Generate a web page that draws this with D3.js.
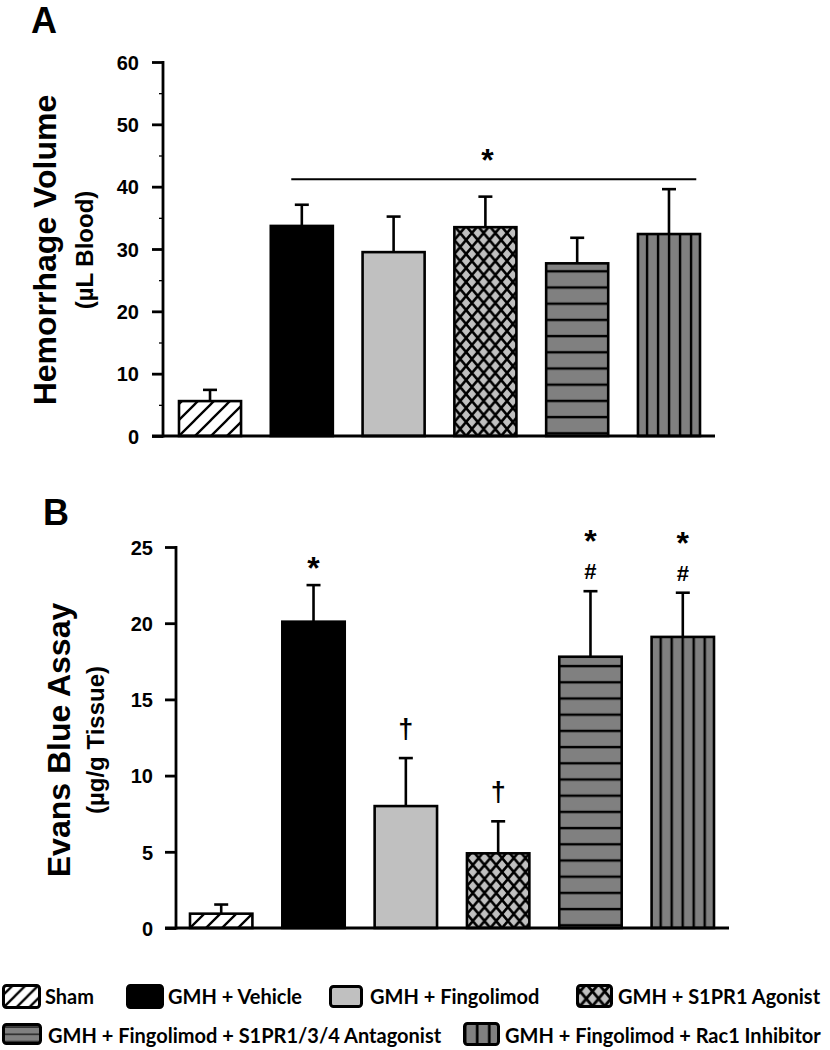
<!DOCTYPE html>
<html><head><meta charset="utf-8">
<script src="https://cdn.jsdelivr.net/npm/d3@7"></script>
<style>body{margin:0;background:#fff}svg{display:block}</style>
</head><body>
<svg id="c" width="830" height="1050"></svg>
<script>
// ---------- data ----------
const categories = ["Sham", "GMH + Vehicle", "GMH + Fingolimod", "GMH + S1PR1 Agonist",
  "GMH + Fingolimod + S1PR1/3/4 Antagonist", "GMH + Fingolimod + Rac1 Inhibitor"];
const barStyles = ["diag", "black", "gray", "cross", "hstripe", "vstripe"];

const hemMean = [5.6, 33.7, 29.5, 33.5, 27.7, 32.4];
const hemSem  = [1.8, 3.4, 5.7, 4.9, 4.1, 7.2];
const hemTicks = [0, 10, 20, 30, 40, 50, 60];
const hemMinorTicks = [5, 15, 25, 35, 45, 55];
const hemSigLineValue = 41.2;
const hemSigMark = "*";

const ebMean = [0.94, 20.1, 8.0, 4.9, 17.8, 19.1];
const ebSem  = [0.6, 2.4, 3.15, 2.1, 4.3, 2.9];
const ebTicks = [0, 5, 10, 15, 20, 25];
const ebSig = [[], ["*"], ["†"], ["†"], ["*", "#"], ["*", "#"]];

// ---------- setup ----------
const svg = d3.select("#c");
const defs = svg.append("defs");
const LIGHT = "#c0c0c0", DARK = "#808080";
const AX = "Liberation Sans, Arial, Helvetica, sans-serif";

function makePattern(id, style, ox, oy, scale) {
  const s = scale || 1;
  let p;
  if (style === "diag") {
    const w = 16 * s;
    p = defs.append("pattern").attr("id", id).attr("patternUnits", "userSpaceOnUse")
      .attr("x", ox).attr("y", oy).attr("width", w).attr("height", w);
    p.append("rect").attr("width", w).attr("height", w).attr("fill", "#fff");
    p.append("path").attr("d", `M${-3},${3} L${3},${-3} M0,${w} L${w},0 M${w-3},${w+3} L${w+3},${w-3}`)
      .attr("stroke", "#000").attr("stroke-width", 2.3);
  } else if (style === "cross") {
    const w = 11.7 * s, h = 14 * s;
    p = defs.append("pattern").attr("id", id).attr("patternUnits", "userSpaceOnUse")
      .attr("x", ox).attr("y", oy).attr("width", w).attr("height", h);
    p.append("rect").attr("width", w).attr("height", h).attr("fill", LIGHT);
    p.append("path").attr("d", `M0,0 L${w},${h} M${w},0 L0,${h}`)
      .attr("stroke", "#000").attr("stroke-width", 2.6 * s);
  } else if (style === "hstripe") {
    const h = 16.2 * s;
    p = defs.append("pattern").attr("id", id).attr("patternUnits", "userSpaceOnUse")
      .attr("x", ox).attr("y", oy).attr("width", 10).attr("height", h);
    p.append("rect").attr("width", 10).attr("height", h).attr("fill", DARK);
    p.append("rect").attr("y", -1.1 * s).attr("width", 10).attr("height", 2.4 * s).attr("fill", "#000");
    p.append("rect").attr("y", h - 1.1 * s).attr("width", 10).attr("height", 2.4 * s).attr("fill", "#000");
  } else if (style === "vstripe") {
    const w = 11 * s;
    p = defs.append("pattern").attr("id", id).attr("patternUnits", "userSpaceOnUse")
      .attr("x", ox).attr("y", oy).attr("width", w).attr("height", 10);
    p.append("rect").attr("width", w).attr("height", 10).attr("fill", DARK);
    p.append("rect").attr("x", -1.1 * s).attr("width", 2.4 * s).attr("height", 10).attr("fill", "#000");
    p.append("rect").attr("x", w - 1.1 * s).attr("width", 2.4 * s).attr("height", 10).attr("fill", "#000");
  }
  return `url(#${id})`;
}

function fillFor(style, id, bx, by, base, scale) {
  if (style === "black") return "#000";
  if (style === "gray") return LIGHT;
  if (style === "hstripe") return makePattern(id, style, bx, base - 19, scale);
  if (style === "vstripe") return makePattern(id, style, bx + 9 - 11, by, scale);
  return makePattern(id, style, bx, base, scale);
}

function drawPanel(cfg) {
  const g = svg.append("g");
  const x = d3.scaleBand().domain(categories).range(cfg.xRange).paddingInner(0.324).paddingOuter(0);
  const y = d3.scaleLinear().domain(cfg.yDomain).range(cfg.yRange);
  const bw = x.bandwidth();
  const base = y(0);
  const data = categories.map((c, i) => ({c, i, m: cfg.means[i], e: cfg.sems[i], st: barStyles[i]}));

  // bars
  g.selectAll("rect.bar").data(data).join("rect").attr("class", "bar")
    .attr("x", d => x(d.c)).attr("y", d => y(d.m))
    .attr("width", bw).attr("height", d => base - y(d.m))
    .attr("fill", d => fillFor(d.st, `${cfg.id}-p${d.i}`, x(d.c), y(d.m), base, 1))
    .attr("stroke", "#000").attr("stroke-width", 2.6);

  // error bars
  const eg = g.selectAll("g.err").data(data).join("g").attr("class", "err")
    .attr("stroke", "#000").attr("stroke-width", 2.6);
  eg.append("line").attr("x1", d => x(d.c) + bw / 2).attr("x2", d => x(d.c) + bw / 2)
    .attr("y1", d => y(d.m)).attr("y2", d => y(d.m + d.e));
  eg.append("line").attr("x1", d => x(d.c) + bw / 2 - 7).attr("x2", d => x(d.c) + bw / 2 + 7)
    .attr("y1", d => y(d.m + d.e)).attr("y2", d => y(d.m + d.e));

  // y axis
  const ya = g.append("g").attr("transform", `translate(${cfg.axisX},0)`)
    .call(d3.axisLeft(y).tickValues(cfg.ticks).tickSize(11).tickSizeOuter(0).tickPadding(cfg.tickPad));
  ya.select(".domain").attr("stroke-width", 2.8).attr("d", `M0,${y.range()[1] - 1}V${base + 1.4}`);
  ya.selectAll(".tick line").attr("stroke-width", 2.8);
  ya.selectAll(".tick text").attr("font-family", AX).attr("font-weight", "bold")
    .attr("font-size", 20).attr("fill", "#000").attr("dy", "0.36em");
  if (cfg.minor) {
    const mi = g.append("g").attr("transform", `translate(${cfg.axisX},0)`)
      .call(d3.axisLeft(y).tickValues(cfg.minor).tickSize(4).tickFormat(""));
    mi.select(".domain").remove();
    mi.selectAll(".tick line").attr("stroke-width", 1.3);
  }
  // x baseline
  g.append("line").attr("x1", cfg.axisX - 11).attr("x2", x(categories[5]) + bw + 15)
    .attr("y1", base).attr("y2", base).attr("stroke", "#000").attr("stroke-width", 2.8);

  // labels
  g.append("text").attr("transform", `translate(${cfg.titleX},${cfg.titleY}) rotate(-90)`)
    .attr("text-anchor", "middle").attr("font-family", AX).attr("font-weight", "bold")
    .attr("font-size", 32).text(cfg.title);
  g.append("text").attr("transform", `translate(${cfg.subX},${cfg.titleY}) rotate(-90)`)
    .attr("text-anchor", "middle").attr("font-family", AX).attr("font-weight", "bold")
    .attr("font-size", 24).text(cfg.sub);
  g.append("text").attr("x", cfg.letterX).attr("y", cfg.letterY).attr("font-family", AX)
    .attr("font-weight", "bold").attr("font-size", 36).text(cfg.letter);
  return {x, y, g, bw};
}

// ---------- panel A ----------
const A = drawPanel({
  id: "A", means: hemMean, sems: hemSem, xRange: [179, 700], yDomain: [0, 60], yRange: [436, 62],
  ticks: hemTicks, minor: hemMinorTicks, axisX: 163, tickPad: 13,
  title: "Hemorrhage Volume", sub: "(µL Blood)", titleX: 56, subX: 93, titleY: 250,
  letter: "A", letterX: 31, letterY: 33
});
{
  const yl = A.y(hemSigLineValue);
  const x1 = A.x(categories[1]) + A.bw * 0.33, x2 = A.x(categories[5]) + A.bw * 0.94;
  A.g.append("line").attr("x1", x1).attr("x2", x2).attr("y1", yl).attr("y2", yl)
    .attr("stroke", "#000").attr("stroke-width", 2);
  A.g.append("text").attr("x", A.x(categories[3]) + A.bw / 2 + 2).attr("y", yl - 8)
    .attr("text-anchor", "middle").attr("font-family", AX).attr("font-weight", "bold")
    .attr("font-size", 32).text(hemSigMark);
}

// ---------- panel B ----------
const B = drawPanel({
  id: "B", means: ebMean, sems: ebSem, xRange: [190, 714], yDomain: [0, 25], yRange: [928, 547],
  ticks: ebTicks, minor: null, axisX: 176, tickPad: 12,
  title: "Evans Blue Assay", sub: "(µg/g Tissue)", titleX: 70, subX: 104, titleY: 740,
  letter: "B", letterX: 43, letterY: 525
});
function mark(txt, cx, yb, fs) {
  B.g.append("text").attr("x", cx).attr("y", yb).attr("text-anchor", "middle")
    .attr("font-family", AX).attr("font-weight", "bold").attr("font-size", fs).text(txt);
}
ebSig.forEach((marks, i) => {
  if (!marks.length) return;
  const cx = B.x(categories[i]) + B.bw / 2;
  const top = B.y(ebMean[i] + ebSem[i]);
  if (marks.length === 1 && marks[0] === "*") {
    mark("*", cx, top - 6, 32);
  } else if (marks.length === 1) {
    mark(marks[0], cx, top - 20, 27);
  } else {
    const hb = top - 12;           // "#" baseline
    mark(marks[1], cx, hb, 22);
    mark(marks[0], cx, hb - 27, 32);
  }
});

// ---------- legend ----------
const LF = "Lato, 'Open Sans', sans-serif";
const legendPos = [
  {sx: 2, sy: 984, sw: 39, sh: 25, tx: 45, ty: 1004},
  {sx: 126, sy: 984, sw: 38, sh: 25, tx: 168, ty: 1004},
  {sx: 329, sy: 985, sw: 34, sh: 23, tx: 370, ty: 1004},
  {sx: 576, sy: 984, sw: 37, sh: 24, tx: 618, ty: 1004},
  {sx: 2, sy: 1023, sw: 40, sh: 22, tx: 48, ty: 1043},
  {sx: 463, sy: 1022, sw: 37, sh: 24, tx: 505, ty: 1043}
];
const lg = svg.append("g");
categories.forEach((c, i) => {
  const p = legendPos[i], st = barStyles[i];
  let fill;
  if (st === "black") fill = "#000";
  else if (st === "gray") fill = LIGHT;
  else if (st === "diag") fill = makePattern(`L${i}`, st, p.sx, p.sy + p.sh, 0.8);
  else if (st === "cross") fill = makePattern(`L${i}`, st, p.sx - 2, p.sy, 1.05);
  else if (st === "hstripe") fill = makePattern(`L${i}`, st, p.sx, p.sy + 4, 0.45);
  else fill = makePattern(`L${i}`, st, p.sx + 2, p.sy, 1.1);
  lg.append("rect").attr("x", p.sx + 1.5).attr("y", p.sy + 1.5).attr("width", p.sw - 3).attr("height", p.sh - 3)
    .attr("rx", 3).attr("fill", fill).attr("stroke", "#000").attr("stroke-width", 3);
  lg.append("text").attr("x", p.tx).attr("y", p.ty).attr("font-family", LF).attr("font-weight", "bold")
    .attr("font-size", 20).attr("fill", "#000").text(c);
});
</script>
</body></html>
